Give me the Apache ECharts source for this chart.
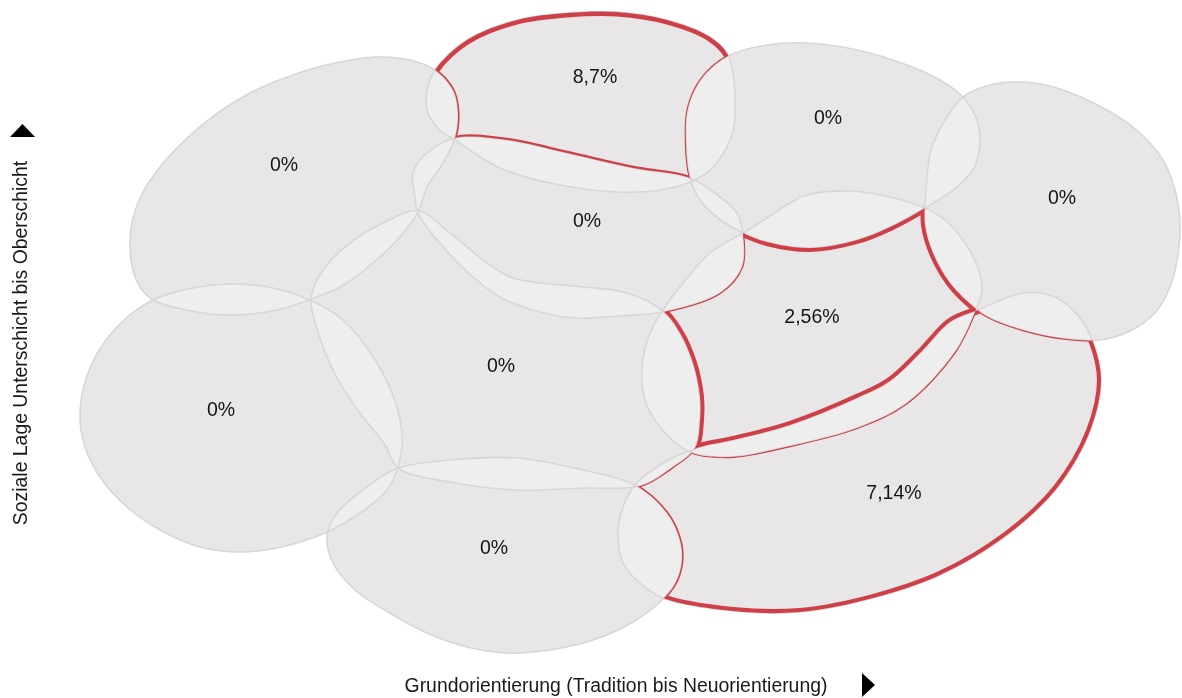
<!DOCTYPE html>
<html>
<head>
<meta charset="utf-8">
<script src="https://cdn.jsdelivr.net/npm/echarts@6/dist/echarts.min.js"></script>
<style>
html, body { margin: 0; padding: 0; background: #fff; }
#main { width: 1182px; height: 698px; }
</style>
</head>
<body>
<div id="main"></div>
<script>
// Anteile je Milieu in %
var anteile = [0, 8.7, 0, 0, 0, 0, 0, 0, 2.56, 7.14];
// Lage der Beschriftung (x: Grundorientierung, y: soziale Lage, in Einheiten der Zeichenflaeche)
var labelX = [284, 595, 828, 1062, 587, 501, 221, 494, 812, 894];
var labelY = [164, 76, 117, 197, 220, 365, 409, 547, 316, 492];
// Umrisse der Milieus (Stuetzpunkte, werden als geschlossene Kurve gezeichnet)
var umrisse = [
    [[130,243],[133,218],[143,192],[160,167],[185,140],[215,115],[250,93],[290,76],[330,64],[377,57],[410,60],[435,70],[453,90],[458,113],[455,138],[443,163],[427,187],[418,212],[400,237],[373,263],[340,287],[311,299],[277,310],[227,315],[177,308],[153,300],[140,287],[132,266]],
    [[435,70],[467,40],[517,20],[567,13],[617,12],[667,20],[710,37],[728,55],[735,95],[732,135],[712,168],[693,181],[660,190],[617,192],[555,184],[500,168],[455,140],[440,130],[428,113],[427,90]],
    [[728,56],[767,45],[807,43],[857,50],[907,65],[940,80],[963,97],[977,120],[980,143],[973,170],[953,190],[925,208],[890,227],[857,240],[810,248],[767,242],[743,233],[718,218],[700,200],[690,178],[686,143],[688,108],[702,78]],
    [[963,97],[990,85],[1023,82],[1057,88],[1107,110],[1140,133],[1163,160],[1175,190],[1180,222],[1178,255],[1170,287],[1155,313],[1130,331],[1100,340],[1060,338],[1023,330],[990,318],[975,308],[950,283],[933,253],[925,225],[926,190],[931,150],[945,120]],
    [[455,138],[507,140],[567,153],[633,168],[690,178],[720,197],[737,213],[743,235],[742,267],[720,293],[663,312],[620,316],[573,318],[533,310],[500,297],[473,277],[443,247],[418,213],[415,197],[413,173],[427,153]],
    [[418,211],[450,233],[483,260],[510,277],[540,283],[583,287],[627,293],[663,311],[680,333],[693,363],[700,397],[700,420],[695,448],[673,467],[640,486],[583,488],[517,490],[450,482],[398,468],[385,445],[360,413],[336,376],[319,335],[311,299],[323,270],[350,243],[383,223]],
    [[153,300],[193,288],[233,284],[273,288],[310,300],[343,320],[377,363],[397,407],[402,440],[398,467],[387,490],[360,513],[325,533],[277,548],[237,552],[200,547],[160,530],[127,507],[100,477],[85,447],[80,417],[84,386],[98,352],[122,322]],
    [[398,468],[450,460],[517,458],[583,470],[635,485],[667,513],[680,540],[682,560],[677,580],[665,597],[633,622],[593,640],[550,650],[507,653],[467,647],[427,633],[388,612],[355,590],[333,563],[327,535],[337,513],[367,487]],
    [[745,232],[767,218],[790,203],[807,195],[850,191],[890,197],[925,208],[945,220],[965,243],[978,268],[982,290],[975,312],[955,352],[907,403],[857,428],[790,446],[730,457],[690,452],[660,427],[645,400],[642,367],[650,333],[663,310],[683,283],[710,253]],
    [[1093,342],[1101,380],[1090,431],[1057,488],[1007,535],[940,575],[873,598],[800,612],[733,611],[663,598],[640,583],[623,563],[618,533],[623,507],[635,485],[660,465],[697,448],[733,440],[790,425],[857,398],[890,381],[923,350],[950,322],[978,310],[1023,293],[1057,298],[1080,318]]
];

var ROT = '#cf3f47';
var TINT = '#e8e6e7';
// Hilfsfarben, an denen spaeter die Ueberblendung erkannt wird
var MASK_IN = '#000001';
var MASK_OUT = '#000002';
// sichtbare Randstaerke der roten Umrandung: Milieu -> {Rand von Milieu: px}
var rotRand = {
    1: { 1: 4.5, 0: 1.5, 4: 2.2, 2: 1.2 },
    8: { 2: 4, 3: 4, 9: 4, 5: 4, 4: 1.2 },
    9: { 9: 4, 8: 1.2, 3: 1.2, 7: 1.5, 5: 1.2 }
};

function dist(a, b) {
    return Math.max(Math.sqrt((a[0] - b[0]) * (a[0] - b[0]) + (a[1] - b[1]) * (a[1] - b[1])), 1e-6);
}

// Kontrollpunkt einer zentripetalen Catmull-Rom-Kurve (als Bezier)
function ctrl(p0, p1, p2) {
    var da = dist(p0, p1), db = dist(p1, p2);
    var sa = Math.sqrt(da), sb = Math.sqrt(db);
    var k = 3 * sa * (sa + sb);
    var m = 2 * da + 3 * sa * sb + db;
    return [(da * p2[0] - db * p0[0] + m * p1[0]) / k, (da * p2[1] - db * p0[1] + m * p1[1]) / k];
}

// geschlossene Kurve durch die Stuetzpunkte
function pfad(api, idx) {
    var pts = umrisse[idx].map(function(p) { return api.coord(p); });
    var n = pts.length;
    var d = 'M' + pts[0][0] + ' ' + pts[0][1];
    for (var i = 0; i < n; i++) {
        var p0 = pts[(i - 1 + n) % n], p1 = pts[i], p2 = pts[(i + 1) % n], p3 = pts[(i + 2) % n];
        var c1 = ctrl(p0, p1, p2), c2 = ctrl(p3, p2, p1);
        d += 'C' + c1[0] + ' ' + c1[1] + ' ' + c2[0] + ' ' + c2[1] + ' ' + p2[0] + ' ' + p2[1];
    }
    return d + 'Z';
}

function fmt(v) {
    return String(v).replace('.', ',') + '%';
}

var daten = anteile.map(function(v, i) { return [i, v]; });

function flaeche(style) {
    return function(params, api) {
        return { type: 'path', shape: { pathData: pfad(api, api.value(0)) }, style: style };
    };
}

// rote Umrandung nur um den nicht ueberlappten Teil eines Milieus
function rotRing(i) {
    return function(params, api) {
        var kids = [];
        var w = rotRand[i];
        Object.keys(w).forEach(function(k) {
            kids.push({ type: 'path', z2: 1, shape: { pathData: pfad(api, +k) },
                style: { fill: 'none', stroke: ROT, lineWidth: w[k] * 2 } });
        });
        kids.push({ type: 'path', z2: 2, shape: { pathData: pfad(api, i) }, style: { fill: MASK_IN } });
        anteile.forEach(function(v, j) {
            if (j !== i) {
                kids.push({ type: 'path', z2: 3, shape: { pathData: pfad(api, j) }, style: { fill: MASK_OUT } });
            }
        });
        return { type: 'group', children: kids };
    };
}

var series = [
    { type: 'custom', zlevel: 0, silent: true, data: daten, renderItem: flaeche({ fill: '#eeeeee' }) },
    { type: 'custom', zlevel: 1, silent: true, data: daten, renderItem: flaeche({ fill: TINT }) },
    { type: 'custom', zlevel: 2, silent: true, data: daten, renderItem: flaeche({ fill: 'none', stroke: '#d7d7d7', lineWidth: 1.6 }) }
];
var z = 3;
Object.keys(rotRand).forEach(function(k) {
    series.push({ type: 'custom', zlevel: z++, silent: true, data: [daten[+k]], renderItem: rotRing(+k) });
});
series.push({
    type: 'custom', zlevel: 10, silent: true, data: daten,
    renderItem: function(params, api) {
        var i = api.value(0);
        var pt = api.coord([labelX[i], labelY[i]]);
        return { type: 'text', x: pt[0], y: pt[1] + 1.5,
            style: { text: fmt(anteile[i]), fill: '#151515', font: '19.5px "Liberation Sans", Arial, sans-serif',
                align: 'center', verticalAlign: 'middle' } };
    }
});

var myChart = echarts.init(document.getElementById('main'));
var option = {
    animation: false,
    grid: { left: 0, right: 0, top: 0, bottom: 0 },
    xAxis: { type: 'value', min: 0, max: 1182, show: false },
    yAxis: { type: 'value', min: 0, max: 698, inverse: true, show: false },
    graphic: [
        { type: 'text', x: 616, y: 687, zlevel: 10,
          style: { text: 'Grundorientierung (Tradition bis Neuorientierung)', fill: '#1a1a1a',
                   font: '19.4px "Liberation Sans", Arial, sans-serif', align: 'center', verticalAlign: 'middle' } },
        { type: 'text', x: 22, y: 343, rotation: Math.PI / 2, zlevel: 10,
          style: { text: 'Soziale Lage Unterschicht bis Oberschicht', fill: '#1a1a1a',
                   font: '19.4px "Liberation Sans", Arial, sans-serif', align: 'center', verticalAlign: 'middle' } },
        { type: 'polygon', zlevel: 10, shape: { points: [[10, 137], [35, 137], [22.5, 124]] }, style: { fill: '#000' } },
        { type: 'polygon', zlevel: 10, shape: { points: [[862, 673], [862, 697], [875, 685]] }, style: { fill: '#000' } }
    ],
    series: series
};
myChart.setOption(option);

// Ueberblendungen direkt an den zrender-Elementen setzen
var zr = myChart.getZr();
var modes = {};
modes[TINT] = 'xor';
modes[MASK_IN] = 'destination-in';
modes[MASK_OUT] = 'destination-out';
zr.storage.getDisplayList(true).forEach(function(el) {
    var m = el.style && modes[el.style.fill];
    if (m) {
        el.style.blend = m;
        el.markRedraw();
    }
});
zr.refreshImmediately();
</script>
</body>
</html>
